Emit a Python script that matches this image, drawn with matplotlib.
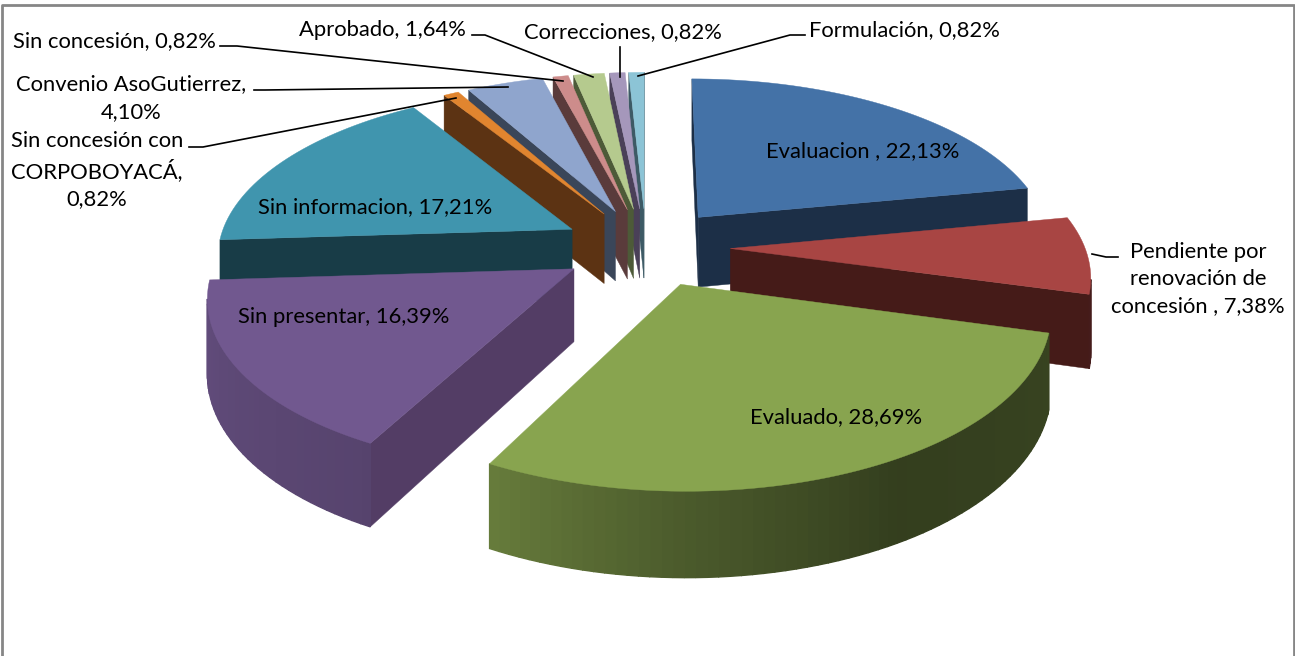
"""Exploded 3D pie of concession status, drawn with a hand made perspective projection."""
import numpy as np
import matplotlib
matplotlib.use('Agg')
import matplotlib.pyplot as plt

categories = ['Evaluacion ', 'Pendiente por\nrenovación de\nconcesión ', 'Evaluado', 'Sin presentar',
              'Sin informacion', 'Sin concesión con\nCORPOBOYACÁ', 'Convenio AsoGutierrez',
              'Sin concesión', 'Aprobado', 'Correcciones', 'Formulación']
values = [22.13, 7.38, 28.69, 16.39, 17.21, 0.82, 4.10, 0.82, 1.64, 0.82, 0.82]
top_colors = ['#4472a7', '#a84543', '#88a44f', '#71588f', '#4095ae', '#e1852f',
              '#8fa5cd', '#cd8c8b', '#b5ca8e', '#a597bb', '#8cc4d6']
inner_colors = ['#1c2f47', '#451b18', '#3d4d22', '#533d65', '#183c47', '#5c3313',
                '#3a4659', '#5a3b3b', '#4d5a38', '#4a4058', '#3d5a65']

# camera and pie geometry, in pixels
CX, CY = 646, 247
RADIUS = 362
EXPLODE = 86
HEIGHT = 73
DIST = 2500
Y_SHIFT = 53
SIN_EL = 0.468


def project(x, y, z=0.0):
    s = DIST / (DIST + y + Y_SHIFT)
    return CX + s * x, CY - s * (y * SIN_EL + z)


def side_shade(theta):
    return np.interp(theta, [90, 150, 180, 210, 270, 360], [0.42, 0.38, 0.55, 0.77, 0.88, 0.6])


def rgb(color, factor=1.0):
    return tuple(np.array(matplotlib.colors.to_rgb(color)) * factor)


def area(pts):
    x, y = np.array(pts).T
    return 0.5 * np.sum(x * np.roll(y, -1) - np.roll(x, -1) * y)


def draw_wedge(ax, start, end, top, inner):
    mid = np.radians((start + end) / 2)
    ox, oy = EXPLODE * np.sin(mid), EXPLODE * np.cos(mid)
    thetas = np.linspace(start, end, max(3, int((end - start) / 1.5)))
    rx = ox + RADIUS * np.sin(np.radians(thetas))
    ry = oy + RADIUS * np.cos(np.radians(thetas))

    # radial cut faces, only those turned towards the viewer
    sign = area([project(ox, oy)] + [project(a, b) for a, b in zip(rx, ry)])
    for (a, b), flip in (((rx[0], ry[0]), 1), ((rx[-1], ry[-1]), -1)):
        quad = [project(ox, oy), project(a, b), project(a, b, -HEIGHT), project(ox, oy, -HEIGHT)]
        if area(quad) * sign * flip < 0:
            xs, ys = zip(*quad)
            ax.fill(xs, ys, color=inner, lw=0.3, zorder=1)

    # outer rim in small strips, shaded by angle
    for i in range(len(thetas) - 1):
        quad = [project(rx[i], ry[i]), project(rx[i + 1], ry[i + 1]),
                project(rx[i + 1], ry[i + 1], -HEIGHT), project(rx[i], ry[i], -HEIGHT)]
        if area(quad) * sign > 0:
            continue
        xs, ys = zip(*quad)
        ax.fill(xs, ys, color=rgb(top, side_shade((thetas[i] + thetas[i + 1]) / 2)), lw=1.0, zorder=1)

    pts = [project(ox, oy)] + [project(a, b) for a, b in zip(rx, ry)]
    xs, ys = zip(*pts)
    ax.fill(xs, ys, color=top, lw=0.3, zorder=1)


fig = plt.figure(figsize=(12.95, 6.56), dpi=100)
ax = fig.add_axes([0, 0, 1, 1])
ax.set_xlim(0, 1295)
ax.set_ylim(656, 0)
ax.axis('off')
plt.rcParams['font.family'] = ['Lato', 'DejaVu Sans']

# open bottomed frame of the chart area
ax.plot([1.5, 1.5, 1293.5, 1293.5], [656, 5, 5, 656], color='#868686', lw=2, zorder=0)

edges = np.concatenate([[0], np.cumsum(values)]) / np.sum(values) * 360
wedges = list(zip(edges[:-1], edges[1:], top_colors, inner_colors))
# back wedges first
wedges.sort(key=lambda w: -np.cos(np.radians((w[0] + w[1]) / 2)))
for start, end, top, inner in wedges:
    draw_wedge(ax, start, end, top, inner)


def label(i):
    return f'{categories[i]}, {values[i]:.2f}%'.replace('.', ',')


FS = 15.8
LS = 1.45
ax.text(863, 151, label(0), ha='center', va='center', fontsize=FS, color='black')
ax.text(1198, 279, label(1), ha='center', va='center', fontsize=FS, linespacing=LS)
ax.text(836, 417, label(2), ha='center', va='center', fontsize=FS)
ax.text(344, 317, label(3), ha='center', va='center', fontsize=FS)
ax.text(375, 207, label(4), ha='center', va='center', fontsize=FS)
ax.text(97, 170, 'Sin concesión con\nCORPOBOYACÁ,\n0,82%', ha='center', va='center', fontsize=FS, linespacing=LS)
ax.text(131, 98, 'Convenio AsoGutierrez,\n4,10%', ha='center', va='center', fontsize=FS, linespacing=LS)
ax.text(114, 41, label(7), ha='center', va='center', fontsize=FS)
ax.text(382, 30, label(8), ha='center', va='center', fontsize=FS)
ax.text(623, 32, label(9), ha='center', va='center', fontsize=FS)
ax.text(904, 30, label(10), ha='center', va='center', fontsize=FS)

leaders = [
    ([220, 237, 563], [46, 46, 81]),
    ([254, 265, 508], [90, 90, 87]),
    ([189, 203, 456], [147, 147, 98]),
    ([472, 485, 593], [35, 35, 77]),
    ([620, 620], [47, 77]),
    ([805, 790, 638], [35, 35, 76]),
    ([1118, 1106, 1092], [257, 257, 254]),
]
for xs, ys in leaders:
    ax.plot(xs, ys, color='black', lw=1.2, zorder=3)

fig.savefig('out.png', dpi=100)
